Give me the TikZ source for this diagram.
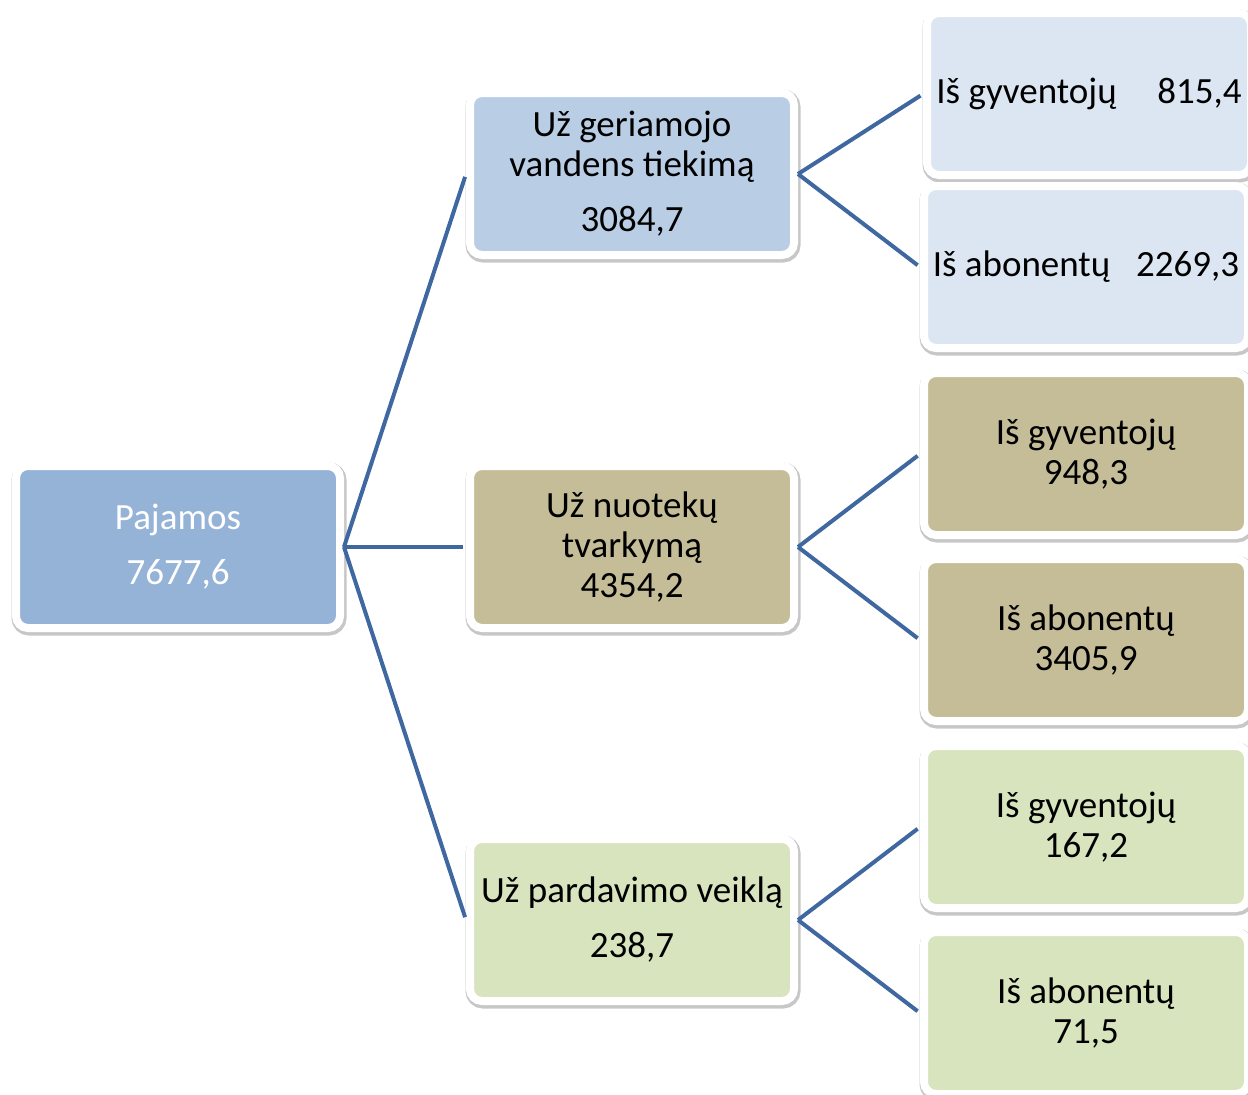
\documentclass[tikz,border=0pt]{standalone}
\usepackage{fontspec}
\setmainfont{Carlito}
\definecolor{rootblue}{RGB}{149,179,215}
\definecolor{paleblue}{RGB}{185,205,229}
\definecolor{lightblue}{RGB}{220,230,242}
\definecolor{khaki}{RGB}{196,189,151}
\definecolor{palegreen}{RGB}{215,228,189}
\definecolor{linkblue}{RGB}{64,104,160}
\tikzset{
  box/.style={draw=white,line width=8pt,rounded corners=12pt,minimum width=324pt,minimum height=162pt,
    align=center,font=\fontsize{37}{40}\selectfont,inner sep=0pt,
    preaction={draw=black!22,line width=11pt,transform canvas={xshift=1pt,yshift=-2pt}}},
  link/.style={linkblue,line width=4pt,shorten >=3pt}
}
\begin{document}
\begin{tikzpicture}[x=1pt,y=-1pt]
  \useasboundingbox (0,0) rectangle (1248,1095);
  \node[box,fill=rootblue,text=white](root)at(178,547){Pajamos\\[15pt]7677,6};
  \node[box,fill=paleblue](water)at(632,174){Už geriamojo\\vandens tiekimą\\[15pt]3084,7};
  \node[box,fill=khaki](waste)at(632,547){Už nuotekų\\tvarkymą\\4354,2};
  \node[box,fill=palegreen](sales)at(632,920){Už pardavimo veiklą\\[15pt]238,7};
  \node[box,fill=lightblue](water1)at(1089,94){Iš gyventojų\hspace{1.1em}815,4};
  \node[box,fill=lightblue](water2)at(1086,267){Iš abonentų\hspace{0.7em}2269,3};
  \node[box,fill=khaki](waste1)at(1086,454){Iš gyventojų\\948,3};
  \node[box,fill=khaki](waste2)at(1086,640){Iš abonentų\\3405,9};
  \node[box,fill=palegreen](sales1)at(1086,827){Iš gyventojų\\167,2};
  \node[box,fill=palegreen](sales2)at(1086,1013){Iš abonentų\\71,5};
  % links
  \foreach \a/\b in {root/water,root/waste,root/sales,water/water1,water/water2,waste/waste1,waste/waste2,sales/sales1,sales/sales2}
    \draw[link](\a.east)--(\b.west);
\end{tikzpicture}
\end{document}
